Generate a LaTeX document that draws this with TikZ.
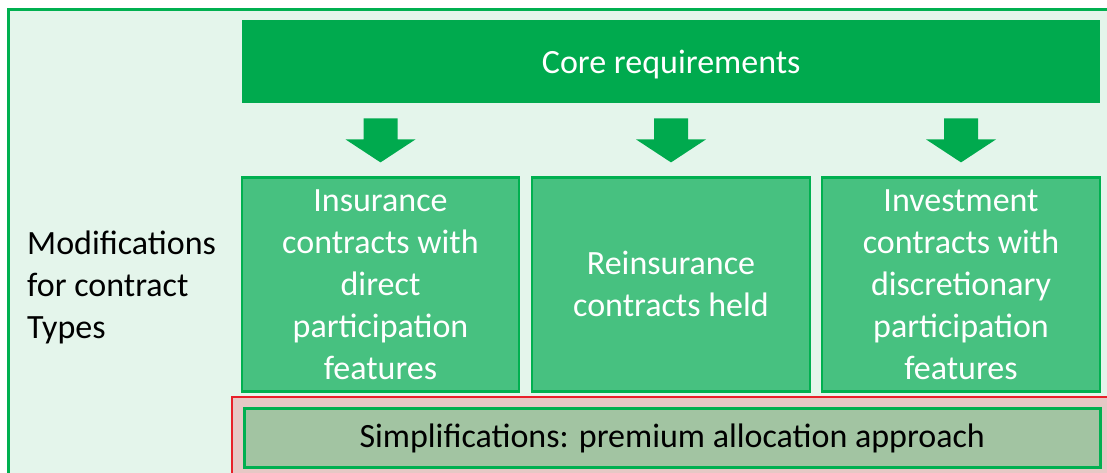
\documentclass[tikz,border=0pt]{standalone}
\usepackage{fontspec}
\setmainfont{Carlito}
\usepackage{xcolor}
\usepackage{tikz}
\usetikzlibrary{positioning}

\definecolor{rimgreen}{HTML}{00B050}
\definecolor{coregreen}{HTML}{00AA4E}
\definecolor{partgreen}{HTML}{47C180}
\definecolor{palegreen}{HTML}{E4F5EB}
\definecolor{simpgreen}{HTML}{A2C4A2}
\definecolor{simpred}{HTML}{E8202A}
\definecolor{pinkfill}{HTML}{E6C8C5}

\begin{document}
\begin{tikzpicture}[x=1pt, y=1pt, node distance=12pt,
        bigfont/.style={font=\fontsize{34}{42}\selectfont},
        part/.style={draw=rimgreen, line width=2.5pt, fill=partgreen, text=white, bigfont,
            minimum width=277pt, minimum height=214pt, align=center, inner sep=0pt, outer sep=0pt},
        blockarrow/.style={fill=coregreen}]
        \path[use as bounding box, clip] (0,0) rectangle (1107,473);

        % outer frame and the red band at the bottom
        \node[draw=rimgreen, line width=3pt, fill=palegreen, minimum width=1120pt, minimum height=490pt,
            inner sep=0pt, anchor=north west] (frame) at (7,465) {};
        \node[draw=simpred, line width=2pt, fill=pinkfill, minimum width=900pt, minimum height=90pt,
            inner sep=0pt, anchor=north west] (band) at (231,77) {};

        \node[fill=coregreen, text=white, bigfont, text depth=0pt, minimum width=858pt, minimum height=83pt,
            inner sep=0pt, anchor=north west] (core) at (242,453) {Core requirements};

        \node[part, below right=74pt and 0pt of core.south west] (direct)
            {Insurance\\contracts with\\direct\\participation\\features};
        \node[part, minimum width=278pt, right=13pt of direct] (reins) {Reinsurance\\contracts held};
        \node[part, minimum width=278pt, right=12pt of reins] (invest)
            {Investment\\contracts with\\discretionary\\participation\\features};

        \node[draw=rimgreen, line width=2.5pt, fill=simpgreen, bigfont, minimum width=856pt, minimum height=59pt,
            inner sep=0pt, below right=16pt and 1pt of direct.south west] (simp)
            {Simplifications: premium allocation approach};

        \node[bigfont, align=left, inner sep=0pt, anchor=west] (types) at (27,186)
            {Modifications\\for contract\\Types};

        \foreach \b in {direct, reins, invest}
            \fill[blockarrow] ([yshift=15pt]\b.north) -- ++(35,23) -- ++(-18,0) -- ++(0,21)
                -- ++(-34,0) -- ++(0,-21) -- ++(-18,0) -- cycle;

    \end{tikzpicture}
\end{document}
